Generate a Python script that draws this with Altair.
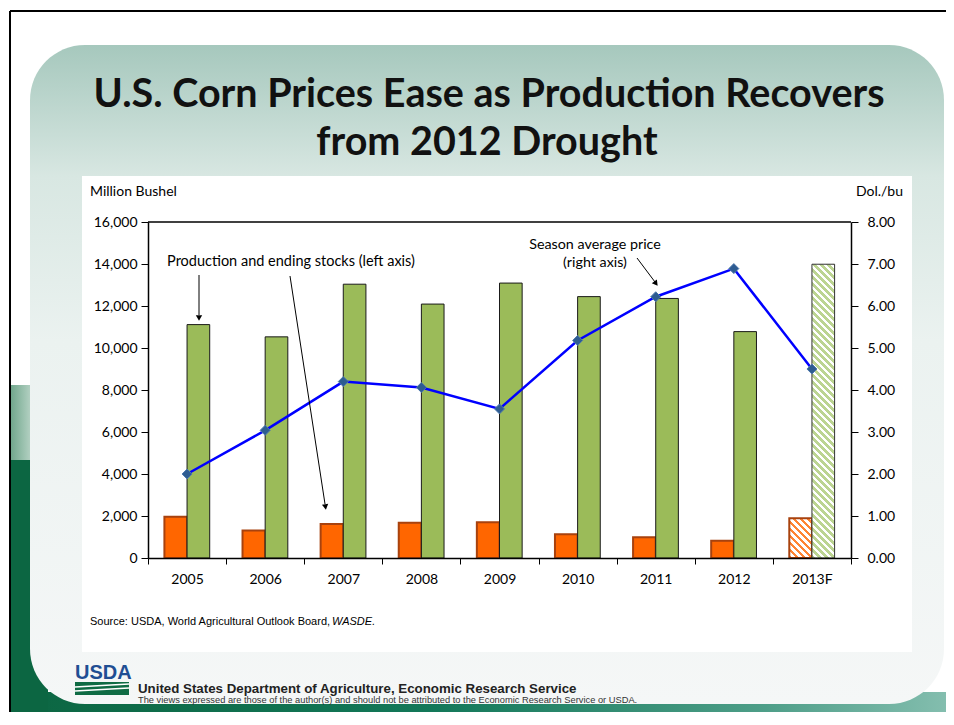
import altair as alt
import pandas as pd

# ---------------- data ----------------
years = ["2005", "2006", "2007", "2008", "2009", "2010", "2011", "2012", "2013F"]
production = [11114, 10531, 13038, 12092, 13092, 12447, 12360, 10780, 13989]
ending_stocks = [1967, 1304, 1624, 1673, 1708, 1128, 989, 821, 1887]
season_price = [2.00, 3.04, 4.20, 4.06, 3.55, 5.18, 6.22, 6.89, 4.50]
left_ticks = [0, 2000, 4000, 6000, 8000, 10000, 12000, 14000, 16000]
right_ticks = [0, 1, 2, 3, 4, 5, 6, 7, 8]
series = ["Ending stocks", "Production"]

W, H = 703, 336
LEFT_MAX, RIGHT_MAX = 16000, 8

bars = pd.DataFrame(
    {"year": years * 2,
     "series": ["Production"] * len(years) + ["Ending stocks"] * len(years),
     "value": production + ending_stocks}
)
prices = pd.DataFrame({"year": years, "price": season_price})
one = pd.DataFrame({"k": [0]})

FONT = "Lato"

# ---------------- scales / axes ----------------
x_scale = alt.Scale(domain=years, paddingInner=0, paddingOuter=0)
x_axis = alt.Axis(title=None, labelAngle=0, tickBand="extent", tickSize=6,
                  tickColor="black", domainColor="black", domainWidth=1.5,
                  labelFont=FONT, labelFontSize=14, labelColor="black",
                  labelPadding=8, grid=False, zindex=1)
xo_scale = alt.Scale(domain=series, paddingInner=0, paddingOuter=0.7243)
yl_scale = alt.Scale(domain=[0, LEFT_MAX], nice=False, zero=True)
yl_axis = alt.Axis(orient="left", values=left_ticks, format=",.0f", title=None, grid=False,
                   tickSize=7, tickColor="black", domainColor="black", domainWidth=1.5,
                   labelFont=FONT, labelFontSize=14, labelColor="black", labelPadding=4,
                   zindex=1)
yr_scale = alt.Scale(domain=[0, RIGHT_MAX], nice=False, zero=True)
yr_axis = alt.Axis(orient="right", values=right_ticks, format=".2f", title=None, grid=False,
                   tickSize=7, tickColor="black", domainColor="black", domainWidth=1.5,
                   labelFont=FONT, labelFontSize=14, labelColor="black", labelPadding=9,
                   zindex=1)


def hatch(w, h, c1, c2, period=7.0):
    L = w + h
    S = w * w + h * h
    x2 = w * L / S
    y2 = 1 - h * L / S
    n = L / period
    stops = []
    t = 0.0
    while t < 1 - 1e-9:
        tm = min(t + 0.5 / n, 1.0)
        te = min(t + 1.0 / n, 1.0)
        stops += [{"offset": round(t, 5), "color": c1}, {"offset": round(tm, 5), "color": c1},
                  {"offset": round(tm, 5), "color": c2}, {"offset": round(te, 5), "color": c2}]
        t = te
    return {"gradient": "linear", "x1": 0, "y1": 1, "x2": x2, "y2": y2, "stops": stops}


bar_w = (W / len(years)) / (2 + 2 * 0.7243)


def bar_layer(sel, **mark):
    return alt.Chart(sel).mark_bar(**mark).encode(
        x=alt.X("year:N", sort=years, scale=x_scale, axis=x_axis),
        xOffset=alt.XOffset("series:N", sort=series, scale=xo_scale),
        y=alt.Y("value:Q", scale=yl_scale, axis=yl_axis),
    )


hist = bars[bars["year"] != "2013F"]
fcst = bars[bars["year"] == "2013F"]
stk_f = fcst[fcst["series"] == "Ending stocks"]
prd_f = fcst[fcst["series"] == "Production"]
h_stk = float(stk_f["value"].iloc[0]) / LEFT_MAX * H
h_prd = float(prd_f["value"].iloc[0]) / LEFT_MAX * H

left_group = alt.layer(
    bar_layer(hist[hist["series"] == "Ending stocks"], color="#FF6600",
              stroke="#A8420E", strokeWidth=2),
    bar_layer(hist[hist["series"] == "Production"], color="#9BBB59",
              stroke="#1A1A1A", strokeWidth=1),
    bar_layer(stk_f, fill=hatch(bar_w, h_stk, "#FF8533", "#FFFFFF", 7.0),
              stroke="#A8420E", strokeWidth=2),
    bar_layer(prd_f, fill=hatch(bar_w, h_prd, "#BCD492", "#FFFFFF", 7.0),
              stroke="#333333", strokeWidth=1),
)

right_group = alt.layer(
    alt.Chart(prices).mark_line(color="#0000FF", strokeWidth=2.5).encode(
        x=alt.X("year:N", sort=years, scale=x_scale, axis=x_axis),
        y=alt.Y("price:Q", scale=yr_scale, axis=yr_axis),
    ),
    alt.Chart(prices).mark_point(shape="diamond", filled=True, size=100, opacity=1,
                                 color="#2E5C91", stroke="#4F79AD", strokeWidth=1).encode(
        x=alt.X("year:N", sort=years, scale=x_scale, axis=x_axis),
        y=alt.Y("price:Q", scale=yr_scale, axis=yr_axis),
    ),
)


# ---------------- decoration helpers (pixel positions relative to plot origin) ----------------
def vrect(x, x2, y, y2, **kw):
    return alt.Chart(one).mark_rect(**kw).encode(
        x=alt.value(x), x2=alt.value(x2), y=alt.value(y), y2=alt.value(y2))


def vrule(x, y, x2, y2, **kw):
    return alt.Chart(one).mark_rule(**kw).encode(
        x=alt.value(x), y=alt.value(y), x2=alt.value(x2), y2=alt.value(y2))


def vtext(txt, x, y, **kw):
    return alt.Chart(one).mark_text(text=txt, baseline="alphabetic", **kw).encode(
        x=alt.value(x), y=alt.value(y))


def vhead(x, y, angle, size=40):
    return alt.Chart(one).mark_point(shape="triangle-up", angle=angle, size=size,
                                     filled=True, opacity=1, color="black").encode(
        x=alt.value(x), y=alt.value(y))


panel_fill = {"gradient": "linear", "x1": 0, "y1": 0, "x2": 0, "y2": 1,
              "stops": [{"offset": 0, "color": "#A6C8BD"},
                        {"offset": 0.2, "color": "#D8E7E2"},
                        {"offset": 0.45, "color": "#EBF2F0"},
                        {"offset": 1, "color": "#F5F7F7"}]}
band_fill = {"gradient": "linear", "x1": 0, "y1": 0, "x2": 1, "y2": 0,
             "stops": [{"offset": 0, "color": "#0C6642"},
                       {"offset": 0.45, "color": "#137859"},
                       {"offset": 0.8, "color": "#4E9E88"},
                       {"offset": 1, "color": "#86BFB0"}]}
dots_fill = {"gradient": "linear", "x1": 0, "y1": 0, "x2": 1, "y2": 0,
             "stops": [{"offset": 0, "color": "#2F7F58"},
                       {"offset": 1, "color": "#FFFFFF"}]}

decor = [
    vrect(-138, 806, 470, 500, fill=band_fill),
    vrect(-138, -100, 238, 500, fill="#0C6642"),
    vrect(-138, -95, 163, 238, fill=dots_fill, opacity=0.7),
    vrect(-118, 796, -177, 482, fill=panel_fill, cornerRadius=55),
    vrect(-66, 764, -46, 430, fill="#FFFFFF"),
    vrule(-138, -211, 806, -211, color="black", strokeWidth=2),
    vrule(-138, -211, -138, 500, color="black", strokeWidth=2),
]

texts = [
    vtext("U.S. Corn Prices Ease as Production Recovers", 341, -115, align="center",
          font=FONT, fontSize=39.5, fontWeight="bold", color="#111111"),
    vtext("from 2012 Drought", 339, -67, align="center",
          font=FONT, fontSize=39.5, fontWeight="bold", color="#111111"),
    vtext("Million Bushel", -58, -26, align="left", font=FONT, fontSize=14, color="black"),
    vtext("Dol./bu", 755, -26, align="right", font=FONT, fontSize=14, color="black"),
    vtext("Production and ending stocks (left axis)", 143, 44, align="center",
          font=FONT, fontSize=14.5, color="black"),
    vtext("Season average price", 447, 27, align="center", font=FONT, fontSize=14.3, color="black"),
    vtext("(right axis)", 447, 45, align="center", font=FONT, fontSize=14.3, color="black"),
    vrule(51, 53, 51, 93, color="black", strokeWidth=1),
    vhead(51, 96, 180),
    vrule(142, 54, 177, 282, color="black", strokeWidth=1),
    vhead(177.5, 285, 171),
    vrule(489, 36, 507, 60, color="black", strokeWidth=1),
    vhead(508, 61.5, 143),
    vrule(0, 0, W, 0, color="black", strokeWidth=1.5),
    vtext("Source:  USDA, World Agricultural Outlook Board, ", -58, 403, align="left",
          font="Liberation Sans", fontSize=11, color="black"),
    vtext("WASDE.", 184, 403, align="left", font="Liberation Sans", fontSize=11,
          fontStyle="italic", color="black"),
    # USDA logo approximation
    vtext("USDA", -73, 457, align="left", font="Liberation Sans",
          fontSize=20, fontWeight="bold", color="#1F4E93"),
    vrect(-73, -19, 460, 473, fill="#0F6B44"),
    vrule(-73, 465, -19, 462, color="white", strokeWidth=1.5),
    vrule(-73, 469, -19, 466, color="white", strokeWidth=1.5),
    vtext("United States Department of Agriculture, Economic Research Service", -10, 471,
          align="left", font="Liberation Sans", fontSize=13.3, fontWeight="bold", color="#222222"),
    vtext("The views expressed are those of the author(s) and should not be attributed to the "
          "Economic Research Service or USDA.", -10, 480.5, align="left",
          font="Liberation Sans", fontSize=9.3, color="#333333"),
]

chart = alt.layer(*decor, left_group, right_group, *texts).resolve_scale(
    y="independent"
).properties(
    width=W, height=H,
    padding={"left": 140, "top": 214, "right": 95, "bottom": 154},
    autosize=alt.AutoSizeParams(type="none"),
    background="white",
).configure_view(stroke=None)

chart.save("out.html", embed_options={"renderer": "svg", "actions": False})
